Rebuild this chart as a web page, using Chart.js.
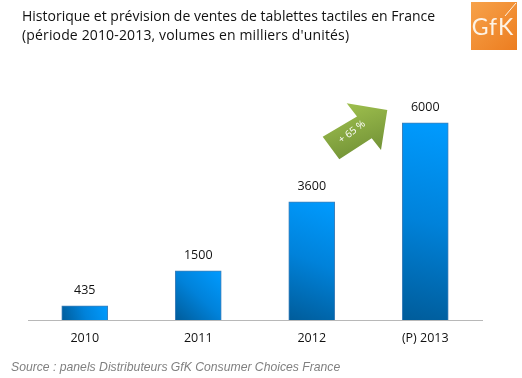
<!DOCTYPE html>
<html>
<head>
<meta charset="utf-8">
<style>
  html, body { margin: 0; padding: 0; background: #fff; }
  #wrap { width: 522px; height: 378px; }
</style>
<script src="https://cdn.jsdelivr.net/npm/chart.js@4"></script>
</head>
<body>
<div id="wrap"><canvas id="tabletChart" width="522" height="378"></canvas></div>
<script>
const categories = ['2010', '2011', '2012', '(P) 2013'];
const salesValues = [435, 1500, 3600, 6000];
const titleLines = [
  "Historique et prévision de ventes de tablettes tactiles en France",
  "(période 2010-2013, volumes en milliers d'unités)"
];
const sourceText = 'Source : panels Distributeurs GfK Consumer Choices France';
const arrowLabel = '+ 65 %';
const logoLabel = 'GfK';

const textFont = '"Open Sans", "Noto Sans", sans-serif';

// Corner to corner fill for each bar, dark bottom-left to bright top-right
function barFill(ctx) {
  const chart = ctx.chart;
  if (!chart.chartArea) return '#0090f0';
  const cx = chart.scales.x.getPixelForValue(ctx.dataIndex);
  const top = chart.scales.y.getPixelForValue(salesValues[ctx.dataIndex]);
  const base = chart.scales.y.getPixelForValue(0);
  const g = chart.ctx.createLinearGradient(cx - 23, base, cx + 23, top);
  g.addColorStop(0, '#005c9a');
  g.addColorStop(0.5, '#0082da');
  g.addColorStop(1, '#009bff');
  return g;
}

// Title, source, value labels, logo and arrow
const decorations = {
  id: 'decorations',
  afterDatasetsDraw(chart) {
    const c = chart.ctx;
    c.save();
    c.textBaseline = 'middle';

    c.fillStyle = '#111';
    c.font = '14px ' + textFont;
    c.fillText(titleLines[0], 22, 17);
    c.letterSpacing = '0.15px';
    c.fillText(titleLines[1], 22, 36);
    c.letterSpacing = '0px';

    c.font = 'italic 12.2px "Liberation Sans", Arial, sans-serif';
    c.fillStyle = '#808080';
    c.fillText(sourceText, 11, 368);

    c.textAlign = 'center';
    c.font = '12.5px ' + textFont;
    c.fillStyle = '#111';
    salesValues.forEach((v, i) => {
      const x = chart.scales.x.getPixelForValue(i);
      const y = chart.scales.y.getPixelForValue(v);
      c.fillText(String(v), x, y - 15);
    });

    // logo
    const lg = c.createLinearGradient(471, 2, 517, 50);
    lg.addColorStop(0, '#f7a24a');
    lg.addColorStop(1, '#ec7d20');
    c.fillStyle = lg;
    c.fillRect(471, 2, 46, 48);
    c.fillStyle = '#fdf3e6';
    c.font = '23px Lato, ' + textFont;
    c.letterSpacing = '1px';
    c.fillText(logoLabel, 493, 28);
    c.letterSpacing = '0px';
    c.strokeStyle = '#fdf3e6';
    c.lineWidth = 1;
    c.beginPath();
    c.moveTo(505, 16);
    c.lineTo(516, 3);
    c.stroke();

    // growth arrow
    const ag = c.createLinearGradient(345, 103, 365, 160);
    ag.addColorStop(0, '#9fc04e');
    ag.addColorStop(1, '#6f8f35');
    c.fillStyle = ag;
    c.beginPath();
    c.moveTo(322.7, 136.7);
    c.lineTo(357, 116.5);
    c.lineTo(346.7, 103.3);
    c.lineTo(387.3, 110);
    c.lineTo(381, 150);
    c.lineTo(371.7, 138.3);
    c.lineTo(339.3, 159.3);
    c.closePath();
    c.fill();
    c.translate(352, 132);
    c.rotate(-37 * Math.PI / 180);
    c.fillStyle = '#fff';
    c.font = '10px ' + textFont;
    c.fillText(arrowLabel, 0, 0);
    c.restore();
  }
};

new Chart(document.getElementById('tabletChart').getContext('2d'), {
  type: 'bar',
  data: {
    labels: categories,
    datasets: [{
      data: salesValues,
      backgroundColor: barFill,
      borderColor: '#3f7fb8',
      borderWidth: 1,
      barThickness: 46
    }]
  },
  options: {
    responsive: false,
    animation: false,
    layout: { padding: { left: 28, right: 40, top: 90, bottom: 0 } },
    plugins: { legend: { display: false }, title: { display: false }, tooltip: { enabled: false } },
    scales: {
      x: {
        grid: { display: false },
        border: { color: '#b8b8b8', width: 1 },
        ticks: { color: '#111', font: { family: textFont, size: 12.5 }, padding: 3, maxRotation: 0 },
        afterFit(scale) { scale.height = 58; }
      },
      y: { display: false, min: 0, max: 7000 }
    }
  },
  plugins: [decorations]
});
</script>
</body>
</html>
